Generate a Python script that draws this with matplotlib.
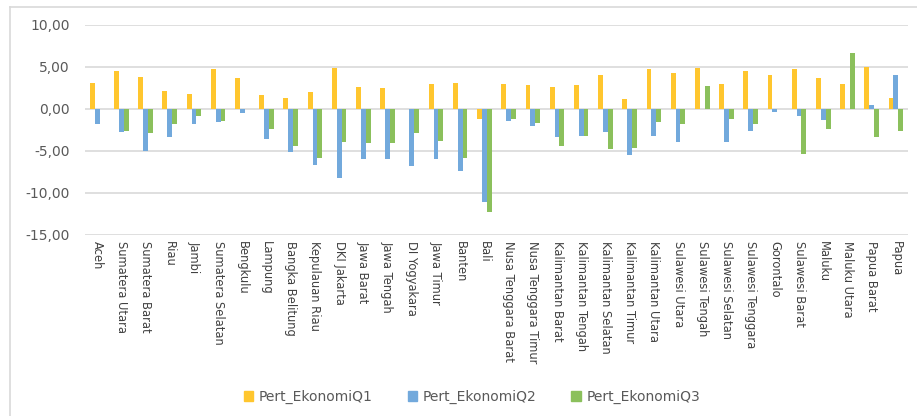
import matplotlib
matplotlib.use("Agg")
import matplotlib.pyplot as plt
import numpy as np
from matplotlib.lines import Line2D

provinces = [
    "Aceh", "Sumatera Utara", "Sumatera Barat", "Riau", "Jambi",
    "Sumatera Selatan", "Bengkulu", "Lampung", "Bangka Belitung",
    "Kepulauan Riau", "DKI Jakarta", "Jawa Barat", "Jawa Tengah",
    "DI Yogyakara", "Jawa Timur", "Banten", "Bali", "Nusa Tenggara Barat",
    "Nusa Tenggara Timur", "Kalimantan Barat", "Kalimantan Tengah",
    "Kalimantan Selatan", "Kalimantan Timur", "Kalimantan Utara",
    "Sulawesi Utara", "Sulawesi Tengah", "Sulawesi Selatan",
    "Sulawesi Tenggara", "Gorontalo", "Sulawesi Barat", "Maluku",
    "Maluku Utara", "Papua Barat", "Papua",
]

q1 = [3.13, 4.56, 3.81, 2.14, 1.75, 4.76, 3.69, 1.67, 1.27, 2.02,
      4.92, 2.62, 2.50, 0.00, 2.94, 3.10, -1.23, 3.02, 2.90, 2.58,
      2.90, 4.05, 1.19, 4.76, 4.29, 4.88, 3.02, 4.48, 4.01, 4.76,
      3.69, 3.02, 5.04, 1.27]
q2 = [-1.83, -2.70, -4.96, -3.30, -1.75, -1.55, -0.48, -3.57, -5.08, -6.67,
      -8.25, -5.99, -5.91, -6.75, -5.91, -7.34, -11.03, -1.43, -2.02, -3.37,
      -3.17, -2.70, -5.52, -3.17, -3.97, 0.00, -3.89, -2.62, -0.30, -0.83,
      -1.35, 0.00, 0.48, 4.08]
q3 = [0.00, -2.58, -2.90, -1.75, -0.83, -1.43, 0.00, -2.38, -4.44, -5.80,
      -3.89, -4.08, -4.01, -2.90, -3.77, -5.80, -12.30, -1.15, -1.71, -4.44,
      -3.17, -4.72, -4.60, -1.51, -1.83, 2.74, -1.15, -1.83, 0.00, -5.32,
      -2.42, 6.63, -3.37, -2.62]

series = [("Pert_EkonomiQ1", q1, "#FFC62E"),
          ("Pert_EkonomiQ2", q2, "#72A9DC"),
          ("Pert_EkonomiQ3", q3, "#8BC05C")]

W, H = 917, 416
fig = plt.figure(figsize=(W / 100, H / 100), dpi=100)
fig.patch.set_facecolor("white")

ax = fig.add_axes([85 / W, (H - 235) / H, (908 - 85) / W, 210 / H])

x = np.arange(len(provinces))
bw = 0.2
for i, (name, vals, col) in enumerate(series):
    ax.bar(x + (i - 1) * bw, vals, width=bw, color=col, label=name,
           zorder=3, linewidth=0)

ax.set_xlim(-0.5, len(provinces) - 0.5)
ax.set_ylim(-15, 10)
yt = [10, 5, 0, -5, -10, -15]
ax.set_yticks(yt)
ax.set_yticklabels([f"{v:.2f}".replace(".", ",") for v in yt],
                   color="#595959", fontsize=10)
ax.yaxis.grid(True, color="#D9D9D9", linewidth=1.2, zorder=0)
ax.set_axisbelow(True)
for s in ax.spines.values():
    s.set_visible(False)
ax.tick_params(axis="y", length=0, pad=11)
ax.tick_params(axis="x", length=0, pad=4)

ax.set_xticks(x)
ax.set_xticklabels(provinces, rotation=270, fontsize=8.3, color="#404040",
                   va="top", ha="center")

# chart frame
fig.add_artist(Line2D([10 / W, 10 / W], [0, (H - 7) / H],
                      color="#D9D9D9", linewidth=1.2))
fig.add_artist(Line2D([10 / W, 1], [(H - 7) / H, (H - 7) / H],
                      color="#D9D9D9", linewidth=1.2))

handles = [plt.Rectangle((0, 0), 1, 1, color=c) for _, _, c in series]
fig.legend(handles, [n for n, _, _ in series], loc="center",
           bbox_to_anchor=(472 / W, 19 / H), ncol=3, frameon=False,
           fontsize=10, handlelength=0.7, handleheight=0.7,
           handletextpad=0.4, columnspacing=2.5,
           labelcolor="#595959")

fig.savefig("out.png", dpi=100, facecolor="white")
